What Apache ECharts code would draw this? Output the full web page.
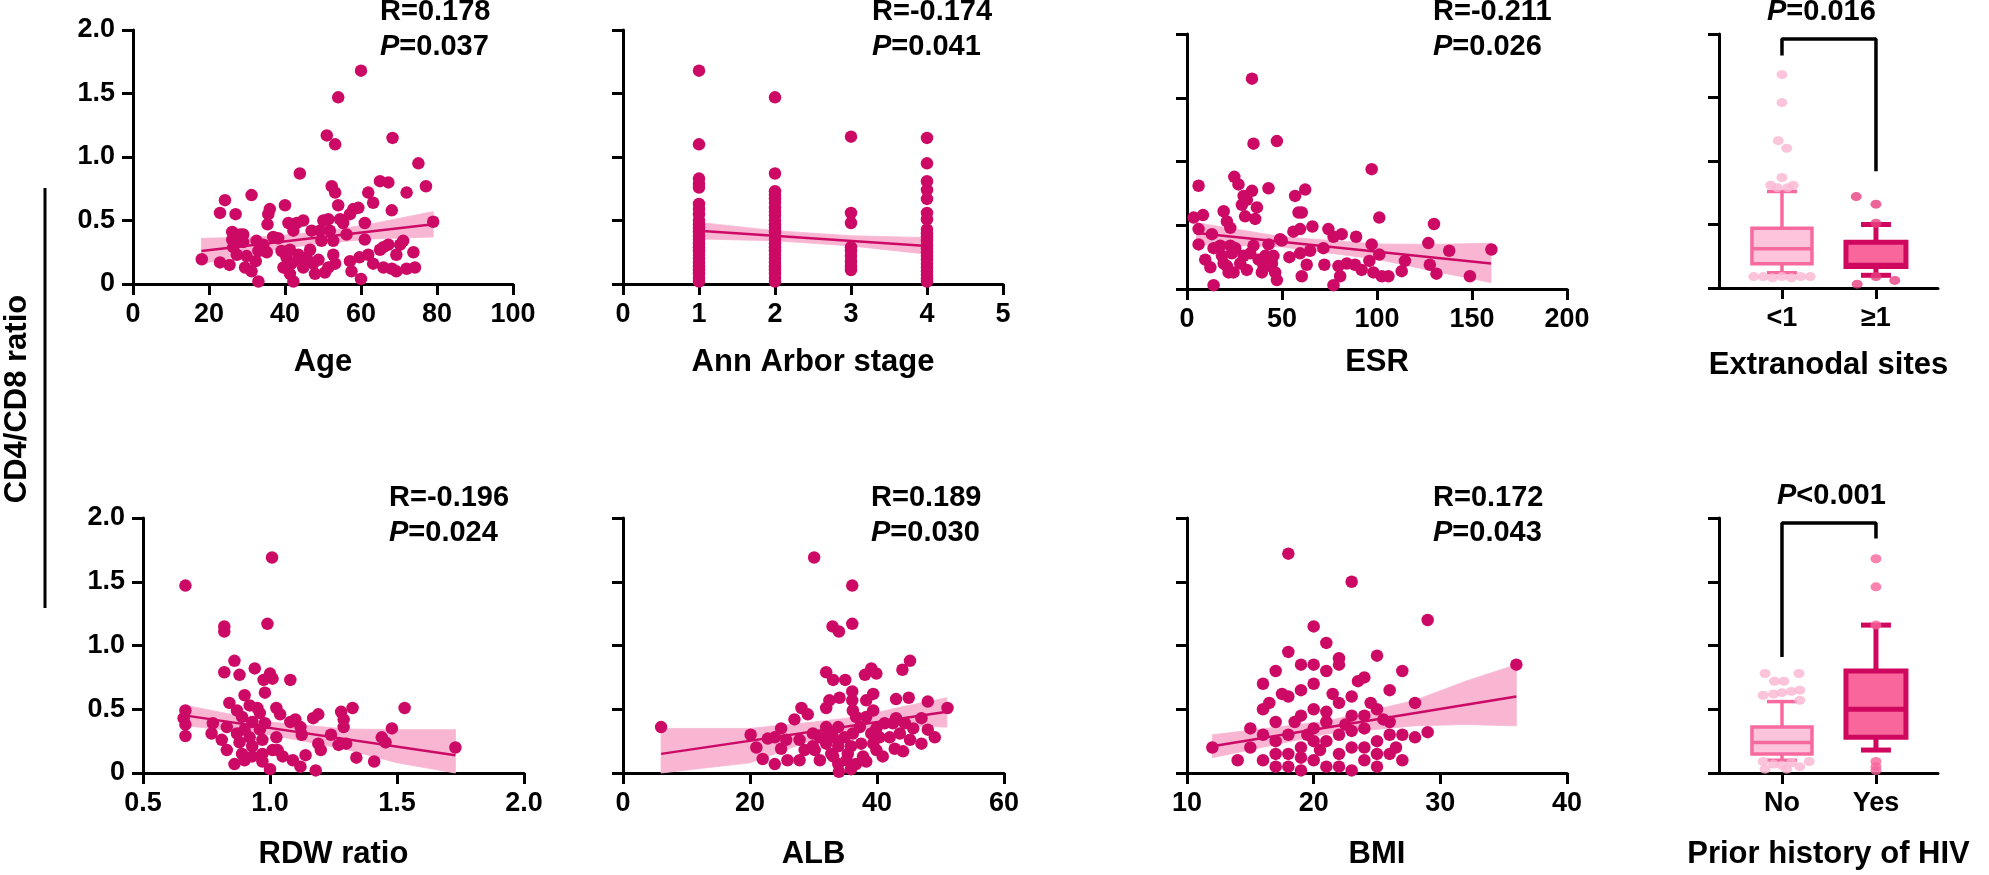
<!DOCTYPE html>
<html><head><meta charset="utf-8">
<script src="https://cdn.jsdelivr.net/npm/echarts@6/dist/echarts.min.js"></script>
<style>html,body{margin:0;padding:0;background:#fff}#c{width:1989px;height:875px}</style>
</head><body><div id="c"></div>
<script>
// ---------------- DATA ----------------
const agePoints = [[18.1,0.195],[24.2,0.66],[22.9,0.56],[27.0,0.55],[31.2,0.70],[22.9,0.17],[25.4,0.15],[26.1,0.41],[26.1,0.35],[29.0,0.39],[29.0,0.33],[27.3,0.23],[29.9,0.22],[29.5,0.13],[31.2,0.10],[33.0,0.02],[32.5,0.34],[33.0,0.26],[32.3,0.18],[35.2,0.25],[35.4,0.47],[35.6,0.55],[36.0,0.59],[40.0,0.62],[38.2,0.36],[40.9,0.48],[42.2,0.42],[43.1,0.48],[44.8,0.50],[43.9,0.87],[47.0,0.42],[39.1,0.26],[39.6,0.13],[40.4,0.21],[41.7,0.16],[42.2,0.02],[43.5,0.23],[44.4,0.18],[44.8,0.13],[45.7,0.21],[46.6,0.27],[47.9,0.08],[48.8,0.19],[49.6,0.34],[50.1,0.50],[51.4,0.51],[51.0,1.17],[53.2,1.10],[54.0,1.47],[52.3,0.77],[53.2,0.72],[54.0,0.62],[54.5,0.51],[55.3,0.48],[51.8,0.42],[52.7,0.34],[51.4,0.13],[53.2,0.16],[56.2,0.39],[57.1,0.55],[58.0,0.59],[59.3,0.60],[60.0,1.68],[60.0,0.04],[61.0,0.48],[61.0,0.35],[61.9,0.72],[63.2,0.64],[65.0,0.81],[67.2,0.80],[68.3,1.15],[68.1,0.58],[72.0,0.72],[75.1,0.95],[77.1,0.77],[79.0,0.49],[57.1,0.18],[57.5,0.10],[59.6,0.21],[61.9,0.23],[63.2,0.16],[65.0,0.27],[65.9,0.13],[67.2,0.31],[68.1,0.12],[69.3,0.10],[70.3,0.31],[71.1,0.34],[69.3,0.23],[72.0,0.12],[73.8,0.25],[74.2,0.13],[65.9,0.29],[49.2,0.42],[52.7,0.23],[41.3,0.27],[41.3,0.08],[36.9,0.37],[34.3,0.31],[26.4,0.29],[28.2,0.39],[47.4,0.16],[50.5,0.09]];
const ageLine = [[18,0.26],[79,0.47]];
const ageBand = [[18,0.16,0.36],[33,0.25,0.37],[48,0.315,0.405],[63,0.355,0.475],[79,0.37,0.57]];

const annStage1 = [1.68,1.10,0.83,0.79,0.76,0.63,0.59,0.55,0.50,0.47,0.44,0.41,0.38,0.35,0.32,0.29,0.26,0.23,0.20,0.17,0.14,0.11,0.08,0.05,0.02];
const annStage2 = [1.47,0.87,0.73,0.70,0.67,0.64,0.60,0.57,0.54,0.50,0.47,0.44,0.41,0.38,0.35,0.32,0.29,0.26,0.23,0.20,0.17,0.14,0.11,0.08,0.05,0.02];
const annStage3 = [1.16,0.56,0.48,0.29,0.26,0.22,0.18,0.14,0.11];
const annStage4 = [1.15,0.95,0.81,0.74,0.67,0.56,0.51,0.43,0.40,0.37,0.34,0.31,0.28,0.25,0.22,0.19,0.16,0.13,0.10,0.07,0.04,0.02];
const annLine = [[1,0.42],[4,0.30]];
const annBand = [[1,0.355,0.485],[2,0.34,0.42],[2.5,0.32,0.40],[3,0.30,0.38],[4,0.235,0.365]];

const esrPoints = [[34.2,1.65],[35.0,1.14],[47.3,1.16],[97.2,0.94],[6.1,0.81],[24.9,0.88],[27.1,0.82],[42.9,0.79],[34.2,0.77],[29.8,0.73],[31.5,0.70],[62.2,0.78],[56.9,0.73],[58.7,0.60],[60.4,0.60],[36.8,0.64],[28.9,0.66],[30.6,0.57],[35.9,0.55],[19.3,0.61],[21.0,0.53],[22.8,0.48],[3.5,0.56],[8.4,0.58],[6.1,0.47],[13.1,0.43],[6.1,0.35],[14.0,0.32],[9.6,0.23],[12.3,0.17],[14.0,0.03],[18.4,0.26],[21.0,0.18],[22.8,0.34],[25.4,0.32],[24.5,0.13],[28.0,0.20],[29.8,0.26],[31.5,0.15],[33.3,0.28],[35.0,0.34],[37.7,0.23],[39.4,0.13],[41.2,0.26],[42.9,0.35],[44.7,0.20],[46.4,0.13],[47.3,0.07],[49.9,0.38],[53.9,0.25],[56.0,0.45],[59.5,0.47],[59.5,0.28],[60.4,0.10],[63.0,0.19],[64.8,0.30],[66.0,0.49],[71.8,0.32],[72.3,0.19],[74.4,0.47],[77.1,0.41],[81.4,0.43],[77.1,0.03],[79.7,0.18],[80.6,0.10],[84.1,0.20],[89.0,0.41],[88.4,0.19],[91.9,0.15],[96.0,0.22],[97.2,0.35],[98.1,0.13],[101.2,0.56],[101.2,0.27],[102.5,0.10],[106.0,0.10],[113.0,0.14],[114.7,0.22],[127.0,0.36],[130.0,0.51],[127.8,0.19],[131.3,0.12],[138.0,0.30],[148.9,0.10],[160.2,0.31],[17.5,0.34],[19.3,0.20],[23.6,0.28],[40.3,0.18],[43.8,0.18],[45.5,0.26],[21.9,0.13],[49.0,0.39]];
const esrLine = [[5,0.44],[160,0.20]];
const esrBand = [[5,0.35,0.52],[50,0.33,0.41],[100,0.233,0.353],[130,0.14,0.35],[160,0.05,0.36]];

const rdwPoints = [[0.667,1.47],[1.008,1.69],[0.82,1.15],[0.82,1.11],[0.99,1.17],[0.86,0.88],[0.82,0.79],[0.88,0.77],[0.94,0.82],[0.975,0.73],[1.0,0.78],[1.01,0.74],[0.98,0.63],[1.08,0.73],[0.90,0.61],[0.84,0.55],[0.87,0.49],[0.92,0.53],[0.95,0.51],[0.96,0.47],[1.025,0.51],[1.04,0.46],[0.667,0.49],[0.66,0.43],[0.667,0.38],[0.667,0.29],[0.775,0.39],[0.77,0.31],[0.81,0.26],[0.83,0.36],[0.87,0.31],[0.88,0.24],[0.90,0.34],[0.92,0.28],[0.93,0.21],[0.96,0.34],[0.97,0.26],[0.83,0.18],[0.86,0.07],[0.90,0.10],[0.93,0.13],[0.97,0.15],[1.0,0.03],[1.01,0.18],[1.025,0.28],[1.05,0.13],[1.08,0.40],[1.10,0.42],[1.12,0.36],[1.125,0.30],[1.09,0.10],[1.12,0.05],[1.14,0.14],[1.17,0.43],[1.19,0.46],[1.19,0.23],[1.20,0.18],[1.18,0.02],[1.24,0.30],[1.27,0.22],[1.28,0.48],[1.29,0.42],[1.29,0.36],[1.325,0.51],[1.30,0.23],[1.34,0.12],[1.41,0.09],[1.44,0.28],[1.455,0.24],[1.48,0.35],[1.53,0.51],[1.73,0.20],[0.89,0.44],[0.93,0.40],[0.98,0.39],[1.03,0.18],[0.97,0.09],[0.89,0.15]];
const rdwLine = [[0.67,0.45],[1.73,0.14]];
const rdwBand = [[0.67,0.37,0.53],[1.0,0.30,0.40],[1.3,0.185,0.345],[1.5,0.08,0.34],[1.73,0.0,0.34]];

const albPoints = [[6.0,0.36],[30.1,1.69],[36.1,1.47],[33.0,1.15],[34.0,1.11],[36.1,1.17],[32.0,0.79],[33.1,0.73],[35.0,0.73],[38.1,0.77],[39.1,0.82],[39.9,0.78],[44.0,0.81],[45.2,0.88],[36.1,0.64],[36.1,0.57],[39.4,0.62],[38.3,0.57],[32.5,0.57],[34.1,0.59],[43.0,0.58],[45.0,0.59],[48.0,0.56],[51.1,0.51],[32.0,0.51],[28.1,0.51],[29.1,0.46],[27.0,0.42],[24.9,0.35],[20.1,0.30],[21.0,0.20],[22.0,0.11],[22.8,0.27],[23.9,0.28],[23.9,0.07],[24.9,0.19],[25.7,0.26],[25.9,0.10],[27.8,0.10],[27.8,0.26],[28.6,0.18],[29.9,0.31],[31.0,0.28],[31.0,0.10],[30.2,0.18],[32.0,0.36],[32.0,0.23],[32.8,0.15],[33.1,0.28],[33.9,0.36],[33.9,0.21],[33.9,0.07],[34.0,0.01],[34.9,0.28],[35.4,0.15],[35.9,0.03],[36.2,0.49],[36.7,0.44],[37.3,0.36],[37.5,0.23],[37.8,0.13],[38.3,0.44],[39.1,0.31],[39.4,0.49],[39.9,0.18],[40.4,0.28],[40.9,0.13],[41.2,0.39],[42.0,0.28],[42.5,0.39],[42.8,0.19],[43.0,0.43],[43.6,0.31],[44.1,0.17],[44.4,0.39],[45.2,0.26],[45.7,0.35],[47.0,0.43],[47.0,0.23],[48.0,0.34],[49.1,0.28],[38.3,0.09],[36.7,0.07],[35.2,0.10],[29.9,0.21],[33.1,0.13],[36.2,0.31],[39.4,0.23],[39.9,0.35],[35.9,0.21],[32.5,0.31]];
const albLine = [[6,0.15],[51,0.48]];
const albBand = [[6,0.0,0.35],[20,0.08,0.35],[30,0.26,0.40],[37,0.34,0.44],[44,0.37,0.52],[51,0.36,0.59]];

const bmiPoints = [[12,0.20],[15,0.35],[16,0.50],[16,0.70],[16,0.10],[17,0.40],[17,0.25],[17,0.05],[18,1.72],[18,0.95],[18,0.60],[18,0.30],[18,0.15],[19,0.85],[19,0.45],[19,0.20],[19,0.02],[20,1.15],[20,0.70],[20,0.50],[20,0.35],[20,0.10],[21,0.80],[21,0.40],[21,0.25],[21,0.05],[22,0.90],[22,0.55],[22,0.30],[22,0.15],[23,1.50],[23,0.60],[23,0.45],[23,0.20],[23,0.02],[24,0.75],[24,0.35],[24,0.10],[25,0.92],[25,0.50],[25,0.25],[25,0.05],[26,0.65],[26,0.40],[26,0.15],[27,0.80],[27,0.30],[27,0.10],[28,0.28],[29,1.20],[29,0.32],[36,0.85],[16.5,0.55],[17.5,0.62],[18.5,0.40],[19.5,0.30],[20.5,0.18],[21.5,0.62],[22.5,0.38],[23.5,0.72],[24.5,0.55],[25.5,0.42],[26.5,0.20],[17,0.80],[19,0.65],[21,1.02],[22,0.85],[24,0.20],[15,0.20],[14,0.10],[20,0.25],[18,0.05],[22,0.05],[26,0.30],[23,0.33],[21,0.48],[19,0.12],[24,0.45],[25,0.15],[28,0.55],[20,0.85],[17,0.15],[16,0.30]];
const bmiLine = [[12,0.21],[36,0.60]];
const bmiBand = [[12,0.12,0.30],[21,0.306,0.406],[28,0.37,0.57],[32,0.38,0.72],[36,0.37,0.85]];

const corrR = ['R=0.178','R=-0.174','R=-0.211','R=-0.196','R=0.189','R=0.172'];
const corrP = ['=0.037','=0.041','=0.026','=0.024','=0.030','=0.043'];

const extraCategories = ['<1','≥1'];
const extraBoxes = [[0.12,0.19,0.31,0.47,0.76],[0.10,0.17,0.18,0.36,0.50]];
const extraOutliersLow = [[0,1.68],[0,1.46],[-0.04,1.16],[0.05,1.10],[0,0.87],[-0.12,0.81],[0.12,0.81],[-0.05,0.79],[0.06,0.79],[-0.3,0.09],[-0.2,0.09],[-0.1,0.08],[0,0.09],[0.1,0.08],[0.2,0.09],[0.3,0.09]];
const extraOutliersHigh = [[0.79,0.72],[1,0.66],[1,0.51],[1,0.09],[1.2,0.06],[0.8,0.03]];
const extraBracket = [[0,1.83],[0,1.96],[1,1.96],[1,0.92]];
const extraP = '=0.016';

const hivCategories = ['No','Yes'];
const hivBoxes = [[0.10,0.15,0.24,0.36,0.56],[0.18,0.28,0.50,0.80,1.16]];
const hivOutliersNo = [[-0.18,0.78],[0.18,0.78],[-0.08,0.72],[0.02,0.72],[-0.2,0.61],[-0.09,0.62],[0,0.63],[0.1,0.64],[0.19,0.65],[0.19,0.57],[-0.2,0.09],[-0.09,0.07],[0,0.06],[0.1,0.08],[0.19,0.05],[0.29,0.09],[-0.18,0.03],[0.05,0.03]];
const hivOutliersYes = [[1,1.68],[1,1.46],[1,1.16],[1,0.09],[1,0.05],[1,0.02]];
const hivBracket = [[0,0.91],[0,1.96],[1,1.96],[1,1.84]];
const hivP = '<0.001';

// ---------------- STYLE / LAYOUT ----------------
const FONT = '"Liberation Sans", Arial, Helvetica, sans-serif';
const DOT = '#cc0a66';
const BAND = '#f8b6d3';
const TICK_FS = 27, NAME_FS = 31, ANN_FS = 29;

const panels = [
  {name:'Age', grid:{left:133,top:30,width:380,height:254}, x:{min:0,max:100,interval:20}, yl:true, nameGap:63, tx:380, ty:-3},
  {name:'Ann Arbor stage', grid:{left:623,top:30,width:380,height:254}, x:{min:0,max:5,interval:1}, yl:false, nameGap:63, tx:872, ty:-3},
  {name:'ESR', grid:{left:1187,top:34,width:380,height:255}, x:{min:0,max:200,interval:50}, yl:false, nameGap:58, tx:1433, ty:-3},
  {name:'RDW ratio', grid:{left:143,top:518,width:381,height:255}, x:{min:0.5,max:2.0,interval:0.5,fmt:v=>v.toFixed(1)}, yl:true, nameGap:66, tx:389, ty:483},
  {name:'ALB', grid:{left:623,top:518,width:381,height:255}, x:{min:0,max:60,interval:20}, yl:false, nameGap:66, tx:871, ty:483},
  {name:'BMI', grid:{left:1187,top:518,width:380,height:255}, x:{min:10,max:40,interval:10}, yl:false, nameGap:66, tx:1433, ty:483}
];
const boxPanels = [
  {name:'Extranodal sites', grid:{left:1719,top:34,width:219,height:254}, nameGap:62, tx:1767, ty:-3},
  {name:'Prior history of HIV', grid:{left:1719,top:518,width:219,height:255}, nameGap:66, tx:1777, ty:481}
];
const boxStyles = [
  {fill:'#fdc4dc', border:'#f76aa0', lw:3.5, out:'#fbb5d2'},
  {fill:'#f9669b', border:'#d0075f', lw:5, out:'#f7649a'}
];

const axisLine = {show:true, onZero:false, lineStyle:{color:'#000', width:3}};
const axisTick = {show:true, length:11, lineStyle:{color:'#000', width:3}};
const txt = {color:'#000', fontFamily:FONT, fontWeight:'bold'};

const scatterSets = [
  agePoints,
  [].concat(annStage1.map(v=>[1,v]), annStage2.map(v=>[2,v]), annStage3.map(v=>[3,v]), annStage4.map(v=>[4,v])),
  esrPoints, rdwPoints, albPoints, bmiPoints
];
const lineSets = [ageLine, annLine, esrLine, rdwLine, albLine, bmiLine];
const bandSets = [ageBand, annBand, esrBand, rdwBand, albBand, bmiBand];

const grid = [], xAxis = [], yAxis = [], series = [], title = [];

function yAxisDef(gi, showLabels) {
  return {type:'value', gridIndex:gi, min:0, max:2, interval:0.5, axisLine, axisTick,
    splitLine:{show:false},
    axisLabel:{show:showLabels, margin:18, fontSize:TICK_FS, ...txt, formatter:v=>v===0?'0':v.toFixed(1)}};
}

function bandRender(params, api) {
  const p = [
    api.coord([api.value(0), api.value(2)]),
    api.coord([api.value(3), api.value(5)]),
    api.coord([api.value(3), api.value(4)]),
    api.coord([api.value(0), api.value(1)])
  ];
  return {type:'polygon', shape:{points:p}, style:{fill:BAND, stroke:BAND, lineWidth:0.8}};
}

panels.forEach((p, i) => {
  grid.push(p.grid);
  xAxis.push({type:'value', gridIndex:i, min:p.x.min, max:p.x.max, interval:p.x.interval,
    axisLine, axisTick, splitLine:{show:false},
    axisLabel:{margin:17, fontSize:TICK_FS, ...txt, formatter: p.x.fmt || (v=>String(v))},
    name:p.name, nameLocation:'middle', nameGap:p.nameGap, nameTextStyle:{fontSize:NAME_FS, ...txt}});
  yAxis.push(yAxisDef(i, p.yl));
  const band = bandSets[i];
  const segs = band.slice(0, -1).map((b, k) => b.concat(band[k+1]));
  series.push({type:'custom', xAxisIndex:i, yAxisIndex:i, renderItem:bandRender, silent:true,
    encode:{x:[0,3], y:[1,2,4,5]}, data:segs, z:1});
  series.push({type:'line', xAxisIndex:i, yAxisIndex:i, symbol:'none', silent:true,
    lineStyle:{color:DOT, width:2.5}, data: lineSets[i], z:2});
  series.push({type:'scatter', xAxisIndex:i, yAxisIndex:i, symbolSize:12.5, silent:true,
    itemStyle:{color:DOT, opacity:1}, data: scatterSets[i], z:3});
  title.push({text:corrR[i], left:p.tx, top:p.ty, padding:0, textStyle:{fontSize:ANN_FS, ...txt}});
  title.push({text:'{i|P}'+corrP[i], left:p.tx, top:p.ty+35, padding:0,
    textStyle:{fontSize:ANN_FS, ...txt, rich:{i:{fontSize:ANN_FS, ...txt, fontStyle:'italic'}}}});
});

function boxRender(params, api) {
  const gx = api.value(0);
  const st = boxStyles[params.dataIndex];
  const v = [1,2,3,4,5].map(k => api.value(k));
  const cx = api.coord([gx, 0])[0];
  const y = v.map(val => api.coord([gx, val])[1]);
  const hw = 30, cw = 15;
  const ls = {stroke:st.border, lineWidth:st.lw, fill:null};
  return {type:'group', children:[
    {type:'line', shape:{x1:cx,y1:y[0],x2:cx,y2:y[1]}, style:ls},
    {type:'line', shape:{x1:cx,y1:y[3],x2:cx,y2:y[4]}, style:ls},
    {type:'line', shape:{x1:cx-cw,y1:y[0],x2:cx+cw,y2:y[0]}, style:ls},
    {type:'line', shape:{x1:cx-cw,y1:y[4],x2:cx+cw,y2:y[4]}, style:ls},
    {type:'rect', shape:{x:cx-hw,y:y[3],width:2*hw,height:y[1]-y[3]}, style:{fill:st.fill, stroke:st.border, lineWidth:st.lw}},
    {type:'line', shape:{x1:cx-hw,y1:y[2],x2:cx+hw,y2:y[2]}, style:ls}
  ]};
}

const boxData = [
  {cats:extraCategories, boxes:extraBoxes, outs:[extraOutliersLow, extraOutliersHigh], bracket:extraBracket, p:extraP},
  {cats:hivCategories, boxes:hivBoxes, outs:[hivOutliersNo, hivOutliersYes], bracket:hivBracket, p:hivP}
];
boxPanels.forEach((bp, k) => {
  const gi = panels.length + k;
  const d = boxData[k];
  grid.push(bp.grid);
  xAxis.push({type:'value', gridIndex:gi, min:-0.67, max:1.66, axisLine,
    axisTick:{...axisTick, customValues:[0,1]}, splitLine:{show:false},
    axisLabel:{margin:17, fontSize:TICK_FS, ...txt, customValues:[0,1], formatter:v=>d.cats[Math.round(v)]},
    name:bp.name, nameLocation:'middle', nameGap:bp.nameGap, nameTextStyle:{fontSize:NAME_FS, ...txt}});
  yAxis.push(yAxisDef(gi, false));
  series.push({type:'custom', xAxisIndex:gi, yAxisIndex:gi, renderItem:boxRender, silent:true, clip:false,
    encode:{x:0, y:[1,2,3,4,5]}, data: d.boxes.map((b, j) => [j].concat(b)), z:2});
  d.outs.forEach((o, j) => {
    series.push({type:'scatter', xAxisIndex:gi, yAxisIndex:gi, symbolSize:[11,9], silent:true,
      itemStyle:{color: k===0 && j===1 ? '#e8407f' : boxStyles[j].out}, data:o, z:3});
  });
  series.push({type:'line', xAxisIndex:gi, yAxisIndex:gi, symbol:'none', silent:true,
    lineStyle:{color:'#000', width:3.5}, data:d.bracket, z:4});
  title.push({text:'{i|P}'+d.p, left:bp.tx, top:bp.ty, padding:0,
    textStyle:{fontSize:ANN_FS, ...txt, rich:{i:{fontSize:ANN_FS, ...txt, fontStyle:'italic'}}}});
});

const chart = echarts.init(document.getElementById('c'), null, {renderer:'canvas'});
chart.setOption({
  backgroundColor:'#fff',
  animation:false,
  title, grid, xAxis, yAxis, series,
  graphic:[
    {type:'line', shape:{x1:45,y1:188,x2:45,y2:608}, style:{stroke:'#000', lineWidth:3}},
    {type:'text', x:17, y:399, rotation:Math.PI/2,
      style:{text:'CD4/CD8 ratio', fill:'#000', font:'bold 31px '+FONT, textAlign:'center', textVerticalAlign:'middle'}}
  ]
});
</script></body></html>
